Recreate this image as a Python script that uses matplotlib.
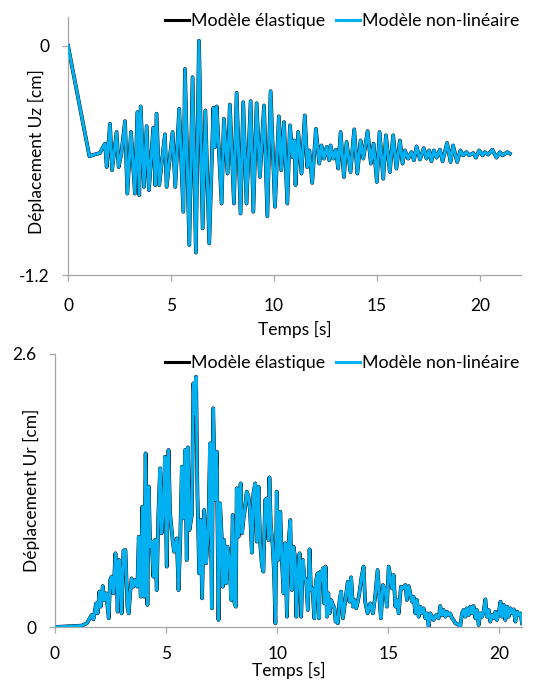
import matplotlib
matplotlib.use("Agg")
import matplotlib.pyplot as plt
from matplotlib.lines import Line2D

# ---------------- data ----------------
# Vertical displacement Uz [cm] versus time [s]
uz_time = [0.00, 1.04, 1.31, 1.55, 1.68, 1.80, 1.88, 2.04, 2.14, 2.36, 2.46, 2.59, 2.77, 2.88,
           3.06, 3.25, 3.37, 3.46, 3.53, 3.69, 3.82, 3.93, 4.14, 4.24, 4.30, 4.43, 4.71, 4.79,
           5.08, 5.21, 5.40, 5.60, 5.68, 5.89, 6.05, 6.21, 6.36, 6.54, 6.67, 6.86, 7.06, 7.14,
           7.22, 7.46, 7.57, 7.75, 7.86, 8.06, 8.19, 8.38, 8.51, 8.67, 8.87, 9.00, 9.16, 9.32,
           9.52, 9.68, 9.84, 10.05, 10.24, 10.36, 10.49, 10.65, 10.78, 10.91, 10.99, 11.05,
           11.18, 11.34, 11.50, 11.62, 11.72, 11.86, 12.04, 12.20, 12.31, 12.43, 12.56, 12.69,
           12.75, 12.88, 13.01, 13.12, 13.24, 13.40, 13.53, 13.72, 13.90, 14.05, 14.21, 14.34,
           14.55, 14.71, 14.84, 15.00, 15.13, 15.31, 15.44, 15.63, 15.79, 15.95, 16.12, 16.25,
           16.36, 16.52, 16.68, 16.80, 16.93, 17.09, 17.28, 17.41, 17.54, 17.65, 17.77, 17.90,
           18.06, 18.19, 18.41, 18.58, 18.70, 18.90, 19.06, 19.19, 19.35, 19.48, 19.68, 19.81,
           19.97, 20.13, 20.24, 20.40, 20.61, 20.81, 20.97, 21.10, 21.33, 21.46]
uz_nonlinear = [0.000, -0.579, -0.569, -0.562, -0.534, -0.513, -0.635, -0.409, -0.652, -0.452,
                -0.635, -0.565, -0.395, -0.774, -0.452, -0.774, -0.348, -0.782, -0.318, -0.739,
                -0.421, -0.756, -0.429, -0.730, -0.356, -0.730, -0.464, -0.739, -0.452, -0.739,
                -0.330, -0.869, -0.122, -1.043, -0.165, -1.083, 0.026, -0.956, -0.339, -1.035,
                -0.325, -0.530, -0.318, -0.826, -0.383, -0.669, -0.308, -0.826, -0.247, -0.878,
                -0.296, -0.826, -0.290, -0.869, -0.301, -0.687, -0.313, -0.892, -0.238, -0.843,
                -0.370, -0.652, -0.400, -0.826, -0.417, -0.583, -0.496, -0.730, -0.452, -0.669,
                -0.365, -0.635, -0.548, -0.718, -0.435, -0.617, -0.522, -0.591, -0.530, -0.600,
                -0.522, -0.591, -0.544, -0.643, -0.452, -0.687, -0.504, -0.661, -0.438, -0.669,
                -0.496, -0.591, -0.447, -0.617, -0.513, -0.713, -0.452, -0.696, -0.469, -0.661,
                -0.469, -0.643, -0.496, -0.617, -0.548, -0.591, -0.557, -0.600, -0.527, -0.596,
                -0.536, -0.591, -0.548, -0.605, -0.548, -0.586, -0.544, -0.605, -0.509, -0.609,
                -0.522, -0.609, -0.548, -0.574, -0.557, -0.574, -0.562, -0.586, -0.548, -0.574,
                -0.557, -0.570, -0.544, -0.586, -0.557, -0.574, -0.557, -0.565]
# the elastic response coincides with the non-linear one at this scale
uz_elastic = list(uz_nonlinear)

# Radial displacement Ur [cm] versus time [s]
ur_time = [0.00, 1.20, 1.43, 1.65, 1.73, 1.85, 1.92, 2.00, 2.06, 2.15, 2.21, 2.30, 2.42, 2.48,
           2.55, 2.63, 2.72, 2.78, 2.82, 2.88, 2.96, 3.00, 3.08, 3.17, 3.26, 3.32, 3.38, 3.45,
           3.53, 3.62, 3.71, 3.77, 3.86, 3.93, 4.01, 4.08, 4.16, 4.22, 4.28, 4.35, 4.43, 4.50,
           4.58, 4.65, 4.73, 4.80, 4.88, 4.95, 5.03, 5.11, 5.18, 5.30, 5.36, 5.48, 5.56, 5.63,
           5.71, 5.78, 5.86, 5.93, 5.98, 6.05, 6.16, 6.23, 6.29, 6.35, 6.41, 6.49, 6.56, 6.62,
           6.71, 6.80, 6.86, 6.92, 6.98, 7.06, 7.12, 7.21, 7.28, 7.36, 7.43, 7.51, 7.55, 7.61,
           7.70, 7.76, 7.85, 7.93, 8.00, 8.08, 8.14, 8.18, 8.26, 8.30, 8.36, 8.42, 8.48, 8.56,
           8.63, 8.71, 8.78, 8.86, 8.93, 9.01, 9.08, 9.16, 9.23, 9.31, 9.38, 9.46, 9.53, 9.61,
           9.65, 9.71, 9.80, 9.86, 9.92, 9.98, 10.05, 10.14, 10.21, 10.29, 10.36, 10.44, 10.51,
           10.59, 10.66, 10.74, 10.81, 10.86, 10.92, 11.01, 11.08, 11.16, 11.22, 11.31, 11.38,
           11.46, 11.52, 11.59, 11.67, 11.74, 11.82, 11.88, 11.94, 12.00, 12.06, 12.12, 12.18,
           12.24, 12.30, 12.36, 12.43, 12.51, 12.58, 12.63, 12.69, 12.73, 12.81, 12.88, 12.96,
           13.03, 13.11, 13.18, 13.26, 13.33, 13.41, 13.48, 13.56, 13.63, 13.71, 13.80, 13.89,
           13.96, 14.07, 14.19, 14.31, 14.41, 14.52, 14.61, 14.67, 14.76, 14.86, 14.94, 15.02,
           15.09, 15.17, 15.24, 15.32, 15.39, 15.47, 15.57, 15.66, 15.77, 15.84, 15.92, 15.99,
           16.07, 16.14, 16.22, 16.29, 16.37, 16.44, 16.52, 16.59, 16.67, 16.74, 16.82, 16.89,
           16.97, 17.04, 17.16, 17.27, 17.34, 17.42, 17.49, 17.57, 17.64, 17.72, 17.79, 17.87,
           17.94, 18.02, 18.09, 18.17, 18.24, 18.32, 18.39, 18.47, 18.54, 18.62, 18.69, 18.77,
           18.84, 18.92, 18.99, 19.07, 19.14, 19.22, 19.29, 19.37, 19.44, 19.52, 19.59, 19.67,
           19.74, 19.82, 19.89, 19.97, 20.05, 20.12, 20.20, 20.27, 20.35, 20.42, 20.50, 20.57,
           20.65, 20.72, 20.80, 20.87, 20.95, 21.02]
ur_nonlinear = [0.000, 0.013, 0.035, 0.114, 0.073, 0.225, 0.130, 0.337, 0.194, 0.390, 0.257,
                0.321, 0.083, 0.448, 0.479, 0.321, 0.702, 0.448, 0.146, 0.638, 0.479, 0.130,
                0.727, 0.733, 0.194, 0.130, 0.321, 0.463, 0.384, 0.448, 0.384, 0.860, 0.289,
                1.146, 0.289, 1.654, 0.210, 1.337, 0.765, 0.813, 0.479, 0.829, 0.352, 1.051,
                1.511, 0.892, 1.146, 1.622, 0.575, 1.686, 1.083, 0.813, 0.717, 0.844, 0.352,
                0.765, 1.527, 1.035, 1.686, 0.638, 1.711, 0.924, 1.067, 2.321, 2.035, 2.384,
                1.273, 0.511, 1.019, 0.273, 1.114, 0.606, 0.797, 1.114, 1.749, 0.178, 2.083,
                1.210, 1.670, 0.067, 1.178, 0.829, 0.384, 0.829, 0.416, 0.765, 0.638, 0.257,
                1.067, 0.225, 0.194, 1.321, 0.860, 1.289, 1.368, 0.892, 1.019, 1.146, 1.289,
                1.241, 1.098, 0.708, 1.273, 1.368, 0.813, 1.337, 0.813, 0.590, 0.527, 1.210,
                1.225, 0.829, 1.425, 0.987, 0.765, 0.511, 0.035, 1.289, 0.638, 1.098, 0.638,
                0.321, 0.797, 0.098, 0.781, 1.019, 0.352, 0.765, 0.654, 0.098, 0.448, 0.702,
                0.098, 0.638, 0.479, 0.432, 0.162, 0.740, 0.352, 0.368, 0.083, 0.432, 0.511,
                0.083, 0.527, 0.448, 0.559, 0.225, 0.575, 0.098, 0.321, 0.130, 0.257, 0.210,
                0.178, 0.051, 0.083, 0.035, 0.257, 0.337, 0.083, 0.194, 0.321, 0.432, 0.241,
                0.473, 0.194, 0.257, 0.178, 0.241, 0.337, 0.479, 0.575, 0.241, 0.130, 0.225,
                0.130, 0.289, 0.543, 0.257, 0.083, 0.400, 0.352, 0.194, 0.575, 0.479, 0.368,
                0.495, 0.194, 0.257, 0.130, 0.384, 0.368, 0.400, 0.257, 0.390, 0.321, 0.241,
                0.289, 0.130, 0.257, 0.098, 0.194, 0.130, 0.178, 0.083, 0.130, 0.003, 0.130,
                0.098, 0.067, 0.114, 0.083, 0.200, 0.114, 0.162, 0.098, 0.146, 0.114, 0.130,
                0.083, 0.067, 0.035, 0.029, 0.019, 0.003, 0.130, 0.162, 0.098, 0.178, 0.114,
                0.194, 0.130, 0.200, 0.083, 0.162, 0.019, 0.130, 0.098, 0.146, 0.263, 0.098,
                0.162, 0.051, 0.114, 0.083, 0.146, 0.067, 0.130, 0.241, 0.098, 0.210, 0.067,
                0.194, 0.098, 0.178, 0.130, 0.168, 0.051, 0.146, 0.114, 0.130, 0.035]
ur_elastic = list(ur_nonlinear)

series_labels = ["Modèle élastique", "Modèle non-linéaire"]
xticks = [0, 5, 10, 15, 20]
uz_yticks, uz_yticklabels = [-1.2, 0], ["-1.2", "0"]
ur_yticks, ur_yticklabels = [0, 2.6], ["0", "2.6"]

# ---------------- style ----------------
plt.rcParams["font.family"] = ["Lato", "DejaVu Sans"]
FS = 12.5
LEG_FS = 12.8
BLUE = "#00B0F0"
AXIS_GREY = "#A6A6A6"

fig = plt.figure(figsize=(5.34, 6.82), dpi=100)
W, H = 534, 682


def px_axes(left, top, right, bottom):
    return fig.add_axes([left / W, 1 - bottom / H, (right - left) / W, (bottom - top) / H])


def style(ax, xpad):
    for s in ("top", "right"):
        ax.spines[s].set_visible(False)
    for s in ("left", "bottom"):
        ax.spines[s].set_color(AXIS_GREY)
        ax.spines[s].set_linewidth(0.9)
    ax.tick_params(direction="out", length=4.5, width=0.9, color=AXIS_GREY,
                   labelsize=FS, labelcolor="black")
    ax.tick_params(axis="y", pad=9)
    ax.tick_params(axis="x", pad=xpad)


def draw(ax, t, el, nl):
    ax.plot(t, el, color="black", lw=2.7, solid_joinstyle="round", zorder=2)
    ax.plot(t, nl, color=BLUE, lw=2.2, solid_joinstyle="round", zorder=3)


def legend_at(y_px):
    handles = [Line2D([], [], color="black", lw=2.2), Line2D([], [], color=BLUE, lw=2.2)]
    fig.legend(handles, series_labels, loc="center right",
               bbox_to_anchor=(519 / W, 1 - y_px / H), ncol=2, frameon=False,
               fontsize=LEG_FS, handlelength=1.35, handletextpad=0.1,
               columnspacing=0.6, borderpad=0, borderaxespad=0)


# ---- top panel: Uz ----
ax1 = px_axes(68, 17, 521, 275)
draw(ax1, uz_time, uz_elastic, uz_nonlinear)
ax1.set_xlim(0, 22)
ax1.set_ylim(-1.2, 0.15)
ax1.set_xticks(xticks)
ax1.set_yticks(uz_yticks)
ax1.set_yticklabels(uz_yticklabels)
style(ax1, 12)
ax1.set_xlabel("Temps [s]", fontsize=FS, labelpad=5)
ax1.set_ylabel("Déplacement Uz [cm]", fontsize=FS)
ax1.yaxis.set_label_coords((45 - 68) / 453, 0.48)
legend_at(21)

# ---- bottom panel: Ur ----
ax2 = px_axes(55, 354, 522, 627)
draw(ax2, ur_time, ur_elastic, ur_nonlinear)
ax2.set_xlim(0, 21.02)
ax2.set_ylim(0, 2.6)
ax2.set_xticks(xticks)
ax2.set_yticks(ur_yticks)
ax2.set_yticklabels(ur_yticklabels)
style(ax2, 9)
ax2.set_xlabel("Temps [s]", fontsize=FS, labelpad=0.5)
ax2.set_ylabel("Déplacement Ur [cm]", fontsize=FS)
ax2.yaxis.set_label_coords((40 - 55) / 467, 0.5)
legend_at(363)

fig.savefig("out.png", dpi=100)
